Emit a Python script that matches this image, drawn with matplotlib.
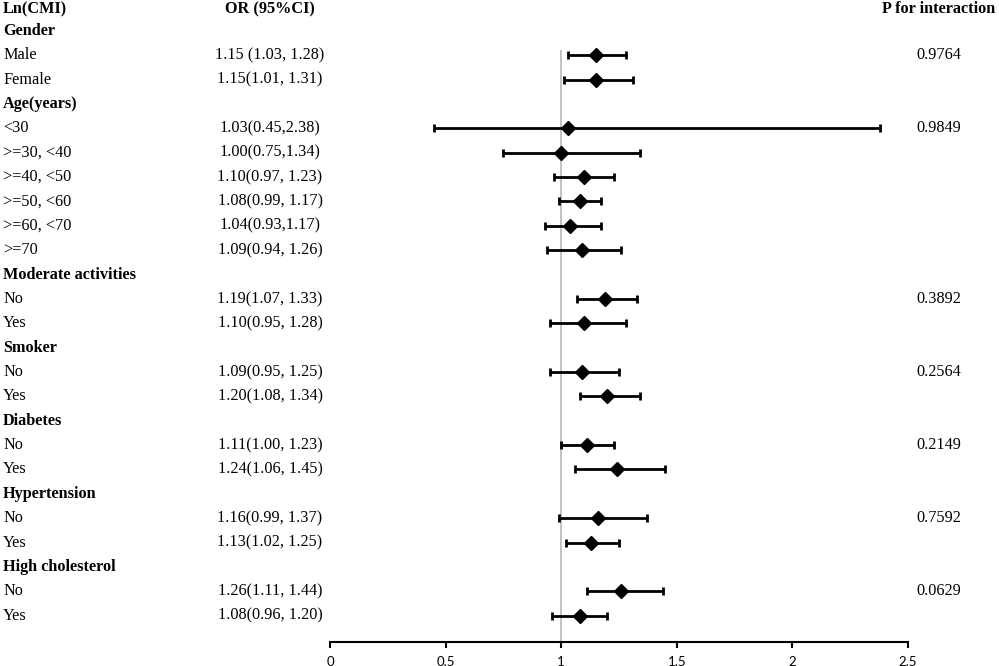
import numpy as np
import matplotlib
matplotlib.use("Agg")
import matplotlib.pyplot as plt
from matplotlib import transforms

# rows of the forest plot, top to bottom (headers have no estimate)
labels = ["Gender", "Male", "Female",
          "Age(years)", "<30", ">=30, <40", ">=40, <50", ">=50, <60", ">=60, <70", ">=70",
          "Moderate activities", "No", "Yes",
          "Smoker", "No", "Yes",
          "Diabetes", "No", "Yes",
          "Hypertension", "No", "Yes",
          "High cholesterol", "No", "Yes"]
is_header = [True, False, False,
             True, False, False, False, False, False, False,
             True, False, False,
             True, False, False,
             True, False, False,
             True, False, False,
             True, False, False]
or_est = [None, 1.15, 1.15,
          None, 1.03, 1.00, 1.10, 1.08, 1.04, 1.09,
          None, 1.19, 1.10,
          None, 1.09, 1.20,
          None, 1.11, 1.24,
          None, 1.16, 1.13,
          None, 1.26, 1.08]
ci_low = [None, 1.03, 1.01,
          None, 0.45, 0.75, 0.97, 0.99, 0.93, 0.94,
          None, 1.07, 0.95,
          None, 0.95, 1.08,
          None, 1.00, 1.06,
          None, 0.99, 1.02,
          None, 1.11, 0.96]
ci_high = [None, 1.28, 1.31,
           None, 2.38, 1.34, 1.23, 1.17, 1.17, 1.26,
           None, 1.33, 1.28,
           None, 1.25, 1.34,
           None, 1.23, 1.45,
           None, 1.37, 1.25,
           None, 1.44, 1.20]
or_text = ["", "1.15 (1.03, 1.28)", "1.15(1.01, 1.31)",
           "", "1.03(0.45,2.38)", "1.00(0.75,1.34)", "1.10(0.97, 1.23)", "1.08(0.99, 1.17)",
           "1.04(0.93,1.17)", "1.09(0.94, 1.26)",
           "", "1.19(1.07, 1.33)", "1.10(0.95, 1.28)",
           "", "1.09(0.95, 1.25)", "1.20(1.08, 1.34)",
           "", "1.11(1.00, 1.23)", "1.24(1.06, 1.45)",
           "", "1.16(0.99, 1.37)", "1.13(1.02, 1.25)",
           "", "1.26(1.11, 1.44)", "1.08(0.96, 1.20)"]
p_interaction = ["", "0.9764", "",
                 "", "0.9849", "", "", "", "", "",
                 "", "0.3892", "",
                 "", "0.2564", "",
                 "", "0.2149", "",
                 "", "0.7592", "",
                 "", "0.0629", ""]
x_ticks = [0, 0.5, 1, 1.5, 2, 2.5]

SERIF = "Liberation Serif"
FS = 11.7
W, H = 999, 666

fig = plt.figure(figsize=(W / 100, H / 100), dpi=100, facecolor="white")
# axes: x 0..2.5 spans pixels 330..908, bottom spine at pixel y ~642
ax = fig.add_axes([330 / W, (H - 641.7) / H, (908 - 330) / W, 641.7 / H])
ax.set_xlim(0, 2.5)
ax.set_ylim(26.07, -0.27)   # row index: header row = 0

rows = np.arange(1, len(labels) + 1)
est = np.array([np.nan if v is None else v for v in or_est])
lo = np.array([np.nan if v is None else v for v in ci_low])
hi = np.array([np.nan if v is None else v for v in ci_high])
ok = ~np.isnan(est)

ax.vlines(1, 1.8, 26.07, color="#bdbdbd", lw=1.3, zorder=1)
ax.errorbar(est[ok], rows[ok], xerr=[est[ok] - lo[ok], hi[ok] - est[ok]],
            fmt="D", color="black", ms=7.2, elinewidth=2, capsize=3, capthick=2,
            zorder=3, clip_on=False)

for s in ("top", "right", "left"):
    ax.spines[s].set_visible(False)
ax.spines["bottom"].set_linewidth(1.5)
ax.spines["bottom"].set_bounds(0, 2.5)
ax.set_yticks([])
ax.set_xticks(x_ticks)
ax.set_xticklabels([f"{t:g}" for t in x_ticks], fontname="Lato", fontsize=9.5)
ax.tick_params(axis="x", direction="out", length=4, width=1.5, pad=6, colors="black")

# text columns, aligned to the data rows
tr = transforms.blended_transform_factory(fig.transFigure, ax.transData)
head_y = 0.1
ax.text(3 / W, head_y, "Ln(CMI)", transform=tr, fontsize=FS, fontname=SERIF,
        fontweight="bold", ha="left", va="center")
ax.text(270 / W, head_y, "OR (95%CI)", transform=tr, fontsize=FS, fontname=SERIF,
        fontweight="bold", ha="center", va="center")
ax.text(939 / W, head_y, "P for interaction", transform=tr, fontsize=FS, fontname=SERIF,
        fontweight="bold", ha="center", va="center")

for i, lab in enumerate(labels):
    y = rows[i]
    ax.text(3 / W, y, lab, transform=tr, fontsize=FS, fontname=SERIF,
            fontweight="bold" if is_header[i] else "normal", ha="left", va="center")
    if or_text[i]:
        ax.text(270 / W, y, or_text[i], transform=tr, fontsize=FS, fontname=SERIF,
                ha="center", va="center")
    if p_interaction[i]:
        ax.text(939 / W, y, p_interaction[i], transform=tr, fontsize=FS, fontname=SERIF,
                ha="center", va="center")

fig.savefig("out.png", dpi=100, facecolor="white")
